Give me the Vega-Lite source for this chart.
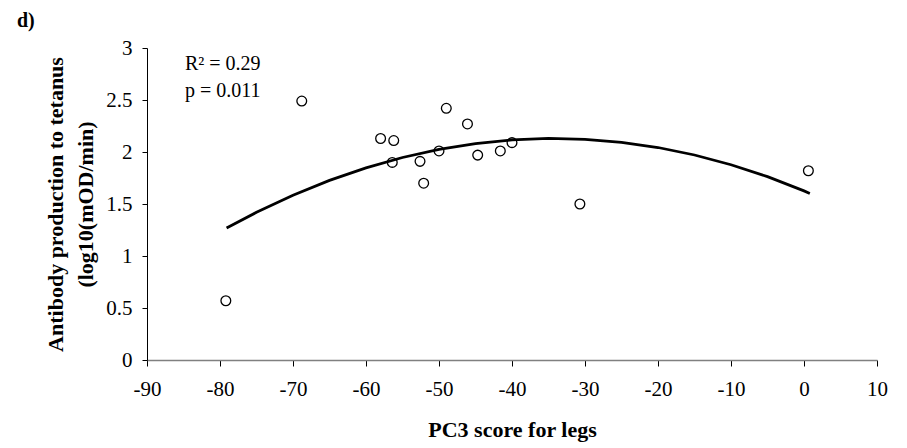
{
  "$schema": "https://vega.github.io/schema/vega-lite/v6.json",
  "width": 730,
  "height": 312,
  "autosize": {"type": "none"},
  "padding": {"left": 147, "top": 48, "right": 30, "bottom": 88},
  "background": "white",
  "config": {
    "view": {"stroke": null},
    "font": "Liberation Serif",
    "axis": {"grid": false, "labelFont": "Liberation Serif", "titleFont": "Liberation Serif", "labelColor": "black", "titleColor": "black"}
  },
  "title": {
    "text": "d)",
    "anchor": "start",
    "frame": "group",
    "font": "Liberation Serif",
    "fontSize": 20,
    "fontWeight": "bold",
    "color": "black",
    "baseline": "alphabetic",
    "dx": -130,
    "dy": 14
  },
  "datasets": {
    "points": [
      {"pc3": -79.2, "antibody": 0.57},
      {"pc3": -68.8, "antibody": 2.49},
      {"pc3": -58.0, "antibody": 2.13},
      {"pc3": -56.2, "antibody": 2.11},
      {"pc3": -56.4, "antibody": 1.90},
      {"pc3": -52.6, "antibody": 1.91},
      {"pc3": -52.1, "antibody": 1.70},
      {"pc3": -50.0, "antibody": 2.01},
      {"pc3": -49.0, "antibody": 2.42},
      {"pc3": -46.1, "antibody": 2.27},
      {"pc3": -44.7, "antibody": 1.97},
      {"pc3": -41.6, "antibody": 2.01},
      {"pc3": -40.0, "antibody": 2.09},
      {"pc3": -30.7, "antibody": 1.50},
      {"pc3": 0.6, "antibody": 1.82}
    ],
    "fit": [
      {"pc3": -79.1, "antibody": 1.27},
      {"pc3": -75, "antibody": 1.42},
      {"pc3": -70, "antibody": 1.585},
      {"pc3": -65, "antibody": 1.727},
      {"pc3": -60, "antibody": 1.847},
      {"pc3": -55, "antibody": 1.947},
      {"pc3": -50, "antibody": 2.025},
      {"pc3": -45, "antibody": 2.081},
      {"pc3": -40, "antibody": 2.116},
      {"pc3": -35, "antibody": 2.13},
      {"pc3": -30, "antibody": 2.122},
      {"pc3": -25, "antibody": 2.093},
      {"pc3": -20, "antibody": 2.043},
      {"pc3": -15, "antibody": 1.971},
      {"pc3": -10, "antibody": 1.877},
      {"pc3": -5, "antibody": 1.763},
      {"pc3": 0, "antibody": 1.626},
      {"pc3": 0.8, "antibody": 1.602}
    ],
    "notes": [
      {"pc3": -84.8, "antibody": 2.79, "label": "R² = 0.29"},
      {"pc3": -84.8, "antibody": 2.53, "label": "p = 0.011"}
    ]
  },
  "layer": [
    {
      "data": {"name": "points"},
      "mark": {"type": "point", "shape": "circle", "size": 95, "filled": false, "stroke": "black", "strokeWidth": 1.3, "opacity": 1},
      "encoding": {
        "x": {
          "field": "pc3", "type": "quantitative",
          "scale": {"domain": [-90, 10], "nice": false, "zero": false},
          "axis": {
            "title": "PC3 score for legs",
            "values": [-90, -80, -70, -60, -50, -40, -30, -20, -10, 0, 10],
            "labelExpr": "'' + datum.value",
            "labelFontSize": 21,
            "labelPadding": 12,
            "tickSize": 6,
            "tickColor": "black",
            "domainColor": "#808080",
            "domainWidth": 1.5,
            "titleFontSize": 22,
            "titleFontWeight": "bold",
            "titleBaseline": "alphabetic",
            "titleY": 76,
            "labelFlush": false
          }
        },
        "y": {
          "field": "antibody", "type": "quantitative",
          "scale": {"domain": [0, 3], "nice": false},
          "axis": {
            "title": ["Antibody production to tetanus", "(log10(mOD/min)"],
            "values": [0, 0.5, 1, 1.5, 2, 2.5, 3],
            "labelExpr": "'' + datum.value",
            "labelFontSize": 21,
            "labelPadding": 10,
            "tickSize": 5,
            "tickColor": "black",
            "domainColor": "black",
            "titleFontSize": 22,
            "titleFontWeight": "bold",
            "titleLineHeight": 30,
            "titleBaseline": "middle",
            "titleX": -92,
            "titleY": 156,
            "labelFlush": false
          }
        }
      }
    },
    {
      "data": {"name": "fit"},
      "mark": {"type": "line", "color": "black", "strokeWidth": 2.75},
      "encoding": {
        "x": {"field": "pc3", "type": "quantitative"},
        "y": {"field": "antibody", "type": "quantitative"}
      }
    },
    {
      "data": {"name": "notes"},
      "mark": {"type": "text", "align": "left", "baseline": "alphabetic", "font": "Liberation Serif", "fontSize": 20, "color": "black"},
      "encoding": {
        "x": {"field": "pc3", "type": "quantitative"},
        "y": {"field": "antibody", "type": "quantitative"},
        "text": {"field": "label"}
      }
    }
  ]
}
